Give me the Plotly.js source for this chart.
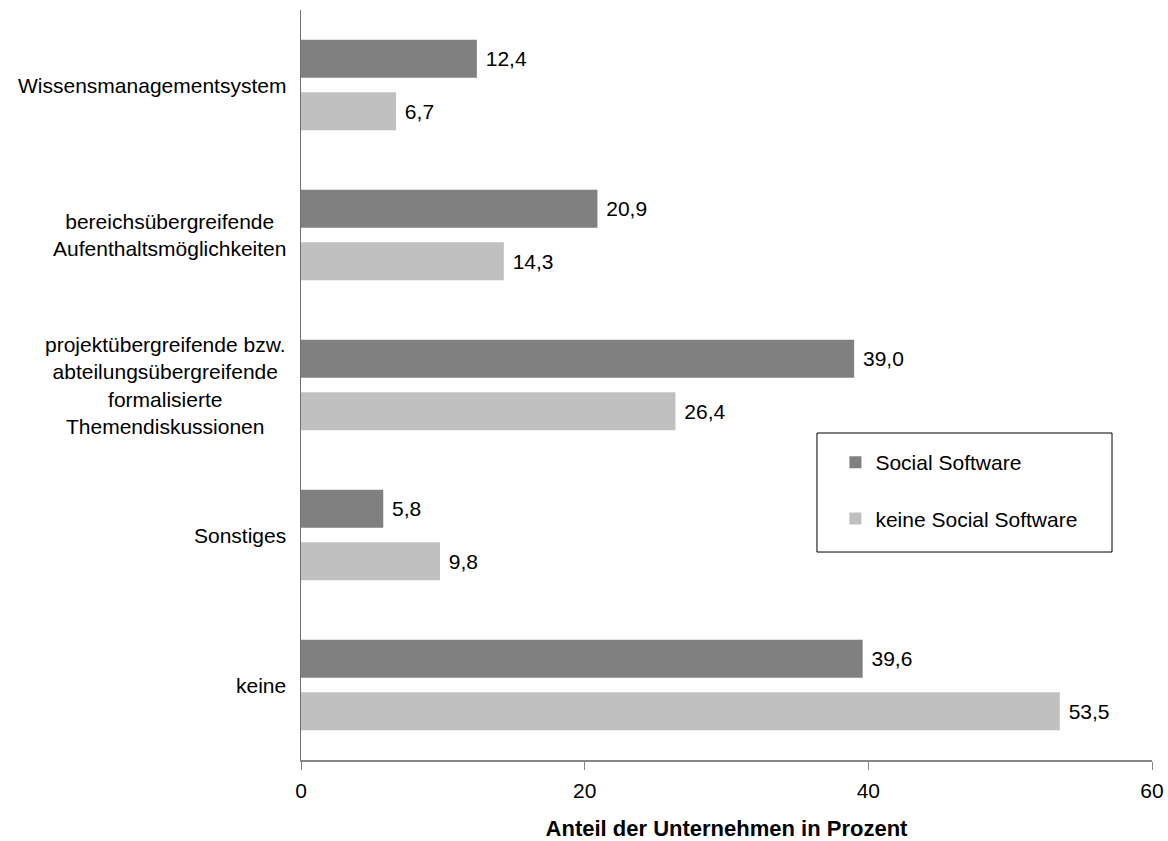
<!DOCTYPE html>
<html>
<head>
<meta charset="utf-8">
<script src="https://cdn.plot.ly/plotly-3.0.1.min.js"></script>
<style>
  html, body { margin: 0; padding: 0; background: #ffffff; }
  #chart { width: 1168px; height: 841px; }
</style>
</head>
<body>
<div id="chart"></div>
<script>
// Categories (top to bottom) and shares of companies in percent
const categories = [
  "Wissensmanagementsystem",
  "bereichsübergreifende<br>Aufenthaltsmöglichkeiten",
  "projektübergreifende bzw.<br>abteilungsübergreifende<br>formalisierte<br>Themendiskussionen",
  "Sonstiges",
  "keine"
];
const seriesNames = ["Social Software", "keine Social Software"];
const socialSoftware = [12.4, 20.9, 39.0, 5.8, 39.6];
const keineSocialSoftware = [6.7, 14.3, 26.4, 9.8, 53.5];
const xTicks = [0, 20, 40, 60];
const xTitle = "Anteil der Unternehmen in Prozent";

const FONT = "Liberation Sans, Arial, Helvetica, sans-serif";

function barTrace(name, values, color, group) {
  return {
    type: "bar",
    orientation: "h",
    name: name,
    legendgroup: group,
    x: values,
    y: categories,
    marker: { color: color, line: { width: 0 } },
    texttemplate: "\u00a0%{x:.1f}",
    textposition: "outside",
    cliponaxis: false,
    textfont: { family: FONT, size: 21, color: "#000000" },
    hoverinfo: "x+name"
  };
}

const traces = [
  barTrace(seriesNames[0], socialSoftware, "#808080", "a"),
  barTrace(seriesNames[1], keineSocialSoftware, "#c0c0c0", "b")
];

// Category labels: centred lines, right-aligned block next to the axis
const labelAnnotations = categories.map(c => ({
  xref: "paper", yref: "y",
  x: -0.015, y: c,
  xanchor: "right", yanchor: "middle",
  align: "center",
  text: c,
  showarrow: false,
  font: { family: FONT, size: 21, color: "#000000" }
}));

const layout = {
  width: 1168,
  height: 841,
  margin: { l: 301, r: 16, t: 10, b: 81, pad: 0 },
  paper_bgcolor: "#ffffff",
  plot_bgcolor: "#ffffff",
  separators: ",.",
  barmode: "group",
  bargap: 0.3,
  bargroupgap: 0.28,
  font: { family: FONT, size: 21, color: "#000000" },
  showlegend: true,
  legend: {
    x: 0.628, xanchor: "left",
    y: 0.424, yanchor: "top",
    bgcolor: "rgba(0,0,0,0)",
    borderwidth: 0,
    traceorder: "grouped",
    tracegroupgap: 26,
    font: { family: FONT, size: 21, color: "#000000" }
  },
  xaxis: {
    range: [0, 60],
    tickvals: xTicks,
    ticktext: xTicks.map(String),
    showgrid: false,
    zeroline: false,
    showline: true,
    linecolor: "#868686",
    linewidth: 1.5,
    ticks: "outside",
    ticklen: 8,
    tickwidth: 1,
    tickcolor: "#868686",
    ticklabelstandoff: 3,
    tickfont: { family: FONT, size: 21, color: "#000000" },
    title: {
      text: "<b>" + xTitle + "</b>",
      font: { family: FONT, size: 22, color: "#000000" },
      standoff: 24
    }
  },
  yaxis: {
    type: "category",
    categoryorder: "array",
    categoryarray: categories,
    autorange: "reversed",
    showticklabels: false,
    showgrid: false,
    zeroline: false,
    showline: true,
    linecolor: "#707070",
    linewidth: 1.5,
    ticks: ""
  },
  shapes: [{
    type: "rect",
    xref: "paper", yref: "paper",
    x0: 0.6063, x1: 0.953,
    y0: 0.2773, y1: 0.436,
    line: { color: "#000000", width: 1 },
    fillcolor: "rgba(0,0,0,0)"
  }],
  annotations: labelAnnotations
};

Plotly.newPlot("chart", traces, layout, { displayModeBar: false, staticPlot: true });
</script>
</body>
</html>
